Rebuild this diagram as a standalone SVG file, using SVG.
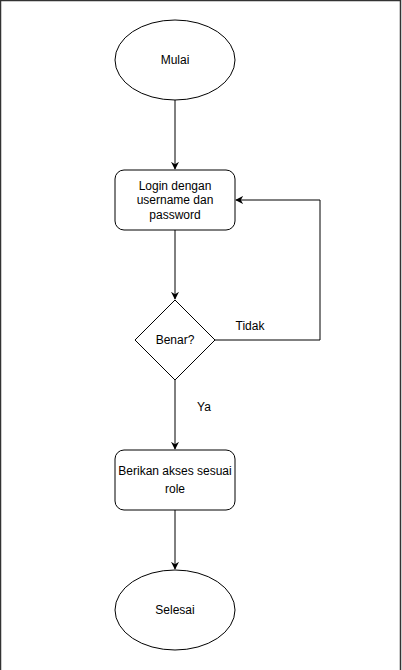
<svg xmlns="http://www.w3.org/2000/svg" width="402" height="670" viewBox="0 0 402 670">
<style>
.shape{fill:#ffffff;stroke:#000000;stroke-width:1}
.lbl{font-family:"Liberation Sans",Arial,sans-serif;font-size:12px;fill:#000000;text-anchor:middle}
.edge{fill:none;stroke:#000000;stroke-width:1}
</style>
<defs>
<marker id="arr" viewBox="0 0 10 10" refX="9" refY="5" markerWidth="8" markerHeight="8" markerUnits="userSpaceOnUse" orient="auto">
<path d="M0,0 L10,5 L0,10 L3,5 Z" fill="#000000"/>
</marker>
</defs>
<rect width="402" height="670" fill="#ffffff"/>
<path d="M0.5,670 V0.5 H400.5 V670" fill="none" stroke="#333333" stroke-width="1.5"/>
<g id="connectors">
<path class="edge" d="M175,100 V169" marker-end="url(#arr)"/>
<path class="edge" d="M175,230 V299" marker-end="url(#arr)"/>
<path class="edge" d="M215,340 H320 V200 H236" marker-end="url(#arr)"/>
<path class="edge" d="M175,380 V449" marker-end="url(#arr)"/>
<path class="edge" d="M175,510 V569" marker-end="url(#arr)"/>
<text class="lbl" x="250" y="330">Tidak</text>
<text class="lbl" x="204" y="411">Ya</text>
</g>
<g id="mulai">
<ellipse class="shape" cx="175" cy="60" rx="60" ry="40"/>
<text class="lbl" x="175" y="64">Mulai</text>
</g>
<g id="login">
<rect class="shape" x="115" y="170" width="120" height="60" rx="9"/>
<text class="lbl" x="175" y="190">Login dengan</text>
<text class="lbl" x="175" y="204">username dan</text>
<text class="lbl" x="175" y="219">password</text>
</g>
<g id="benar">
<path class="shape" d="M175,300 L215,340 L175,380 L135,340 Z"/>
<text class="lbl" x="175" y="344">Benar?</text>
</g>
<g id="akses">
<rect class="shape" x="115" y="450" width="120" height="60" rx="9"/>
<text class="lbl" x="175" y="475">Berikan akses sesuai</text>
<text class="lbl" x="175" y="493">role</text>
</g>
<g id="selesai">
<ellipse class="shape" cx="175" cy="610" rx="60" ry="40"/>
<text class="lbl" x="175" y="614">Selesai</text>
</g>
</svg>
